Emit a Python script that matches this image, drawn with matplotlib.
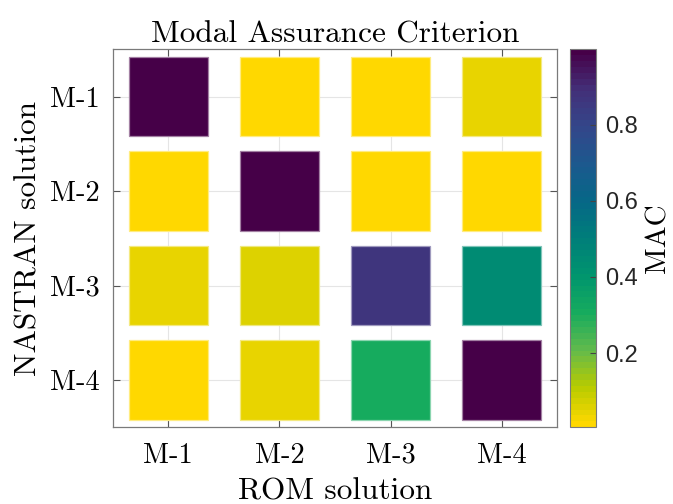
import matplotlib
matplotlib.use("Agg")
import matplotlib.pyplot as plt
import numpy as np
from matplotlib.colors import LinearSegmentedColormap
from matplotlib.patches import Rectangle

# MAC values: rows = NASTRAN modes, columns = ROM modes
rom_modes = ["M-1", "M-2", "M-3", "M-4"]
nastran_modes = ["M-1", "M-2", "M-3", "M-4"]
mac_row1 = [0.998, 0.012, 0.005, 0.050]
mac_row2 = [0.010, 0.997, 0.006, 0.015]
mac_row3 = [0.050, 0.062, 0.870, 0.440]
mac_row4 = [0.010, 0.045, 0.300, 0.985]
cbar_ticks = [0.2, 0.4, 0.6, 0.8]

mac = np.array([mac_row1, mac_row2, mac_row3, mac_row4])

# yellow -> green -> teal -> blue -> purple map
cmap_colors = ["#FFD800", "#B8CB00", "#62BA4C", "#16AB5E", "#00956E",
               "#007E7A", "#066787", "#1C598E", "#34468A", "#432F78", "#460048"]
cmap = LinearSegmentedColormap.from_list("mac_map", cmap_colors, N=64)
vmin, vmax = mac.min(), mac.max()
norm = plt.Normalize(vmin, vmax)

serif = "cmr10"
plt.rcParams["axes.formatter.use_mathtext"] = True

fig = plt.figure(figsize=(6.73, 5.04), dpi=100)
ax = fig.add_axes([0.1675, 0.1522, 0.6606, 0.75])
cax = fig.add_axes([0.847, 0.1522, 0.0382, 0.75])

cell_w, cell_h = 0.714, 0.844
for i in range(len(nastran_modes)):
    for j in range(len(rom_modes)):
        face = np.array(cmap(norm(mac[i, j]))[:3])
        edge = face * 0.5 + 0.5
        ax.add_patch(Rectangle((j + 1 - cell_w / 2, i + 1 - cell_h / 2), cell_w, cell_h,
                               facecolor=face, edgecolor=edge, linewidth=0.9, zorder=3))

ax.set_xlim(0.5, 4.5)
ax.set_ylim(4.5, 0.5)
ax.set_xticks(range(1, len(rom_modes) + 1))
ax.set_yticks(range(1, len(nastran_modes) + 1))
ax.set_xticklabels(rom_modes, fontfamily=serif, fontsize=20.5)
ax.set_yticklabels(nastran_modes, fontfamily=serif, fontsize=20.5)
ax.tick_params(direction="in", length=5, width=0.8, color="#555555",
               top=True, right=True, pad=9)
ax.tick_params(axis="x", pad=11)
ax.grid(True, color="#E5E5E5", linewidth=0.8, zorder=0)
ax.set_axisbelow(True)
for s in ax.spines.values():
    s.set_color("#7a7a7a")
    s.set_linewidth(0.9)

ax.set_xlabel("ROM solution", fontfamily=serif, fontsize=22.5, labelpad=6)
ax.set_ylabel("NASTRAN solution", fontfamily=serif, fontsize=22.5, labelpad=6)
ax.set_title("Modal Assurance Criterion", fontfamily=serif, fontsize=22.5, pad=5)

sm = matplotlib.cm.ScalarMappable(norm=norm, cmap=cmap)
cb = fig.colorbar(sm, cax=cax)
cb.set_ticks(cbar_ticks)
cb.set_ticklabels([f"{t:.1f}" for t in cbar_ticks])
cax.tick_params(direction="in", length=4, width=0.8, color="#444444",
                labelsize=17, pad=7)
for lab in cax.get_yticklabels():
    lab.set_fontfamily("Liberation Sans")
    lab.set_color("#262626")
cb.outline.set_edgecolor("#7a7a7a")
cb.outline.set_linewidth(0.8)
cb.set_label("MAC", fontfamily=serif, fontsize=21, labelpad=5)

fig.savefig("out.png", dpi=100)
